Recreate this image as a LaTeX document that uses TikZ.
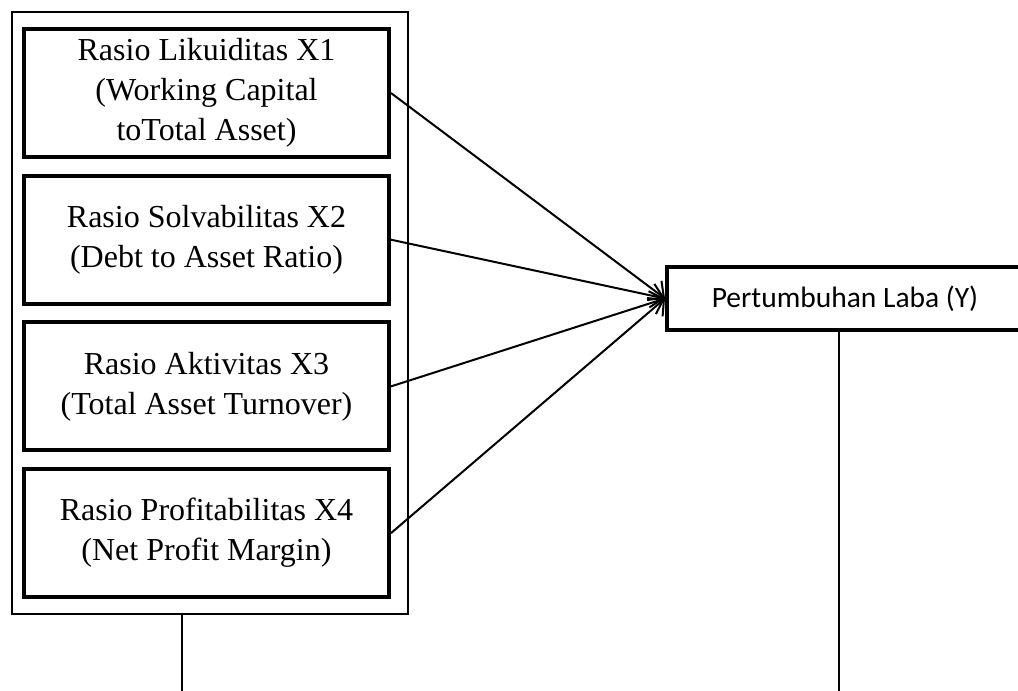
\documentclass[tikz,border=0pt]{standalone}
\usepackage{fontspec}
\setmainfont{Liberation Serif}
\newfontfamily\calibrifont{Carlito}
\usetikzlibrary{positioning, arrows.meta}

\begin{document}
\begin{tikzpicture}[x=1pt, y=-1pt, node distance=146.7pt, on grid,
  rasio/.style={draw, line width=4pt, minimum width=365pt, minimum height=128pt,
    align=center, font=\fontsize{32}{40}\selectfont},
  hasil/.style={draw, line width=4pt, minimum width=356pt, minimum height=63pt,
    font=\calibrifont\fontsize{29.5}{32}\selectfont},
  panah/.style={line width=2pt, -{Straight Barb[length=12pt, width=24pt, line width=2pt]}},
  garis/.style={line width=2pt}]
   \useasboundingbox (0,0) rectangle (1018,691);

   % kotak luar variabel X
   \node[draw, line width=2pt, minimum width=396pt, minimum height=602pt] (frame) at (210,313) {};

   \node[rasio] (x1) at (206.5,93) {Rasio Likuiditas X1\\(Working Capital\\toTotal Asset)};
   \node[rasio] (x2) [below=of x1] {Rasio Solvabilitas X2\\(Debt to Asset Ratio)};
   \node[rasio] (x3) [below=of x2] {Rasio Aktivitas X3\\(Total Asset Turnover)};
   \node[rasio] (x4) [below=of x3] {Rasio Profitabilitas X4\\(Net Profit Margin)};

   % variabel Y
   \node[hasil, anchor=west] (y) at (665,298.5) {Pertumbuhan Laba (Y)};

   \path[panah]
    (x1.east) edge (y.west)
    (x2.east) edge (y.west)
    (x3.east) edge (y.west)
    (x4.east) edge (y.west);

   % garis ke bawah
   \coordinate (a1) at (182,614);
   \coordinate (a2) at (182,691);
   \coordinate (b2) at (839,691);
   \draw[garis] (a1) -- (a2);
   \draw[garis] (b2 |- y.south) -- (b2);
\end{tikzpicture}
\end{document}
